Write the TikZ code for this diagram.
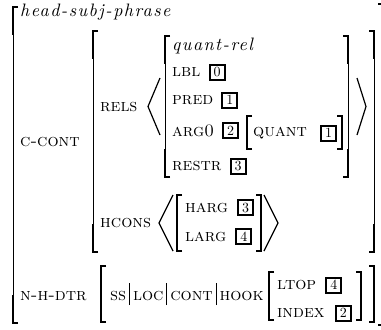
\documentclass[tikz,border=0pt]{standalone}
\usepackage{fontspec}
\usetikzlibrary{positioning}
\newfontfamily\avmscfont{lmromancaps10-regular.otf}
\newfontfamily\avmitfont[LetterSpace=8]{lmroman10-italic.otf}
\newfontfamily\avmrmfont{lmroman10-regular.otf}
\newcommand{\avmbar}{\hspace{3pt}\rule[-5pt]{0.8pt}{22pt}\hspace{3pt}}
\tikzset{
  feat/.style={inner sep=0pt, anchor=base west, font=\fontsize{17.5}{21}\selectfont\avmscfont},
  typ/.style={inner sep=0pt, anchor=base west, font=\fontsize{18}{21}\selectfont\avmitfont},
  tag/.style={draw, line width=2pt, minimum size=15pt, inner sep=0pt, font=\fontsize{14}{14}\selectfont\avmrmfont},
  thinbr/.style={line width=0.9pt},
  thickbr/.style={line width=1.9pt, line join=miter},
  angbr/.style={line width=1.2pt, line join=miter}
}
% left bracket: x, top, bottom, length of thick end pieces
\newcommand{\avmlb}[4]{%
  \draw[thinbr] (#1,#2) -- (#1,#3);
  \draw[thickbr] ({#1+5},#2) -- (#1,#2) -- (#1,{#2+#4});
  \draw[thickbr] ({#1+5},#3) -- (#1,#3) -- (#1,{#3-#4});}
\newcommand{\avmrb}[4]{%
  \draw[thinbr] (#1,#2) -- (#1,#3);
  \draw[thickbr] ({#1-5},#2) -- (#1,#2) -- (#1,{#2+#4});
  \draw[thickbr] ({#1-5},#3) -- (#1,#3) -- (#1,{#3-#4});}
\begin{document}
\begin{tikzpicture}[x=1pt, y=-1pt]
\useasboundingbox[fill=white] (0,0) rectangle (381,330);

% brackets
\avmlb{13}{7}{323}{28}
\avmrb{383}{4}{325}{28}
\avmlb{93}{31}{252}{28}
\avmrb{374}{31}{252}{28}
\avmlb{165}{36}{177}{28}
\avmrb{348}{36}{177}{28}
\avmlb{247}{116}{149}{17}
\avmrb{342}{116}{149}{17}
\avmlb{177}{195}{251}{28}
\avmrb{261}{195}{251}{28}
\avmlb{101}{266}{322}{28}
\avmrb{374}{266}{322}{28}
\avmlb{269}{272}{320}{24}
\avmrb{361}{272}{320}{24}

% angle brackets
\draw[angbr] (160,78) -- (148,106.5) -- (160,135);
\draw[angbr] (357,78) -- (366,106.5) -- (357,135);
\draw[angbr] (173,195) -- (159,223) -- (173,251);
\draw[angbr] (264,195) -- (278,223) -- (264,251);

% texts
\node[typ] (hsp) at (20,16) {head-subj-phrase};
\node[feat] (ccont) at (20,146) {c-cont};
\node[feat] (nhdtr) at (20,300.5) {n-h-dtr};
\node[feat] (rels) at (100,111) {rels};
\node[feat] (hcons) at (100,227) {hcons};
\node[typ] (qrel) at (172,50) {quant-rel};
\node[feat] (lbl) at (172,76.5) {lbl};
\node[tag, right=8pt of lbl] (t0) {0};
\node[feat] (pred) at (172,104.5) {pred};
\node[tag, right=8pt of pred] (t1a) {1};
\node[feat] (arg0) at (172,136.5) {arg0};
\node[tag, right=8pt of arg0] (t2a) {2};
\node[feat] (quant) at (253,136.5) {quant};
\node[tag, right=13pt of quant] (t1b) {1};
\node[feat] (restr) at (172,170.5) {restr};
\node[tag, right=8pt of restr] (t3a) {3};
\node[feat] (harg) at (185,212.5) {harg};
\node[tag, right=9pt of harg] (t3b) {3};
\node[feat] (larg) at (185,241.5) {larg};
\node[tag, right=9pt of larg] (t4a) {4};
\node[feat] (path) at (110,300) {ss\avmbar loc\avmbar cont\avmbar hook};
\node[feat] (ltop) at (277,289.5) {ltop};
\node[tag, right=9pt of ltop] (t4b) {4};
\node[feat] (index) at (277,317.5) {index};
\node[tag, right=10pt of index] (t2b) {2};
\end{tikzpicture}
\end{document}
